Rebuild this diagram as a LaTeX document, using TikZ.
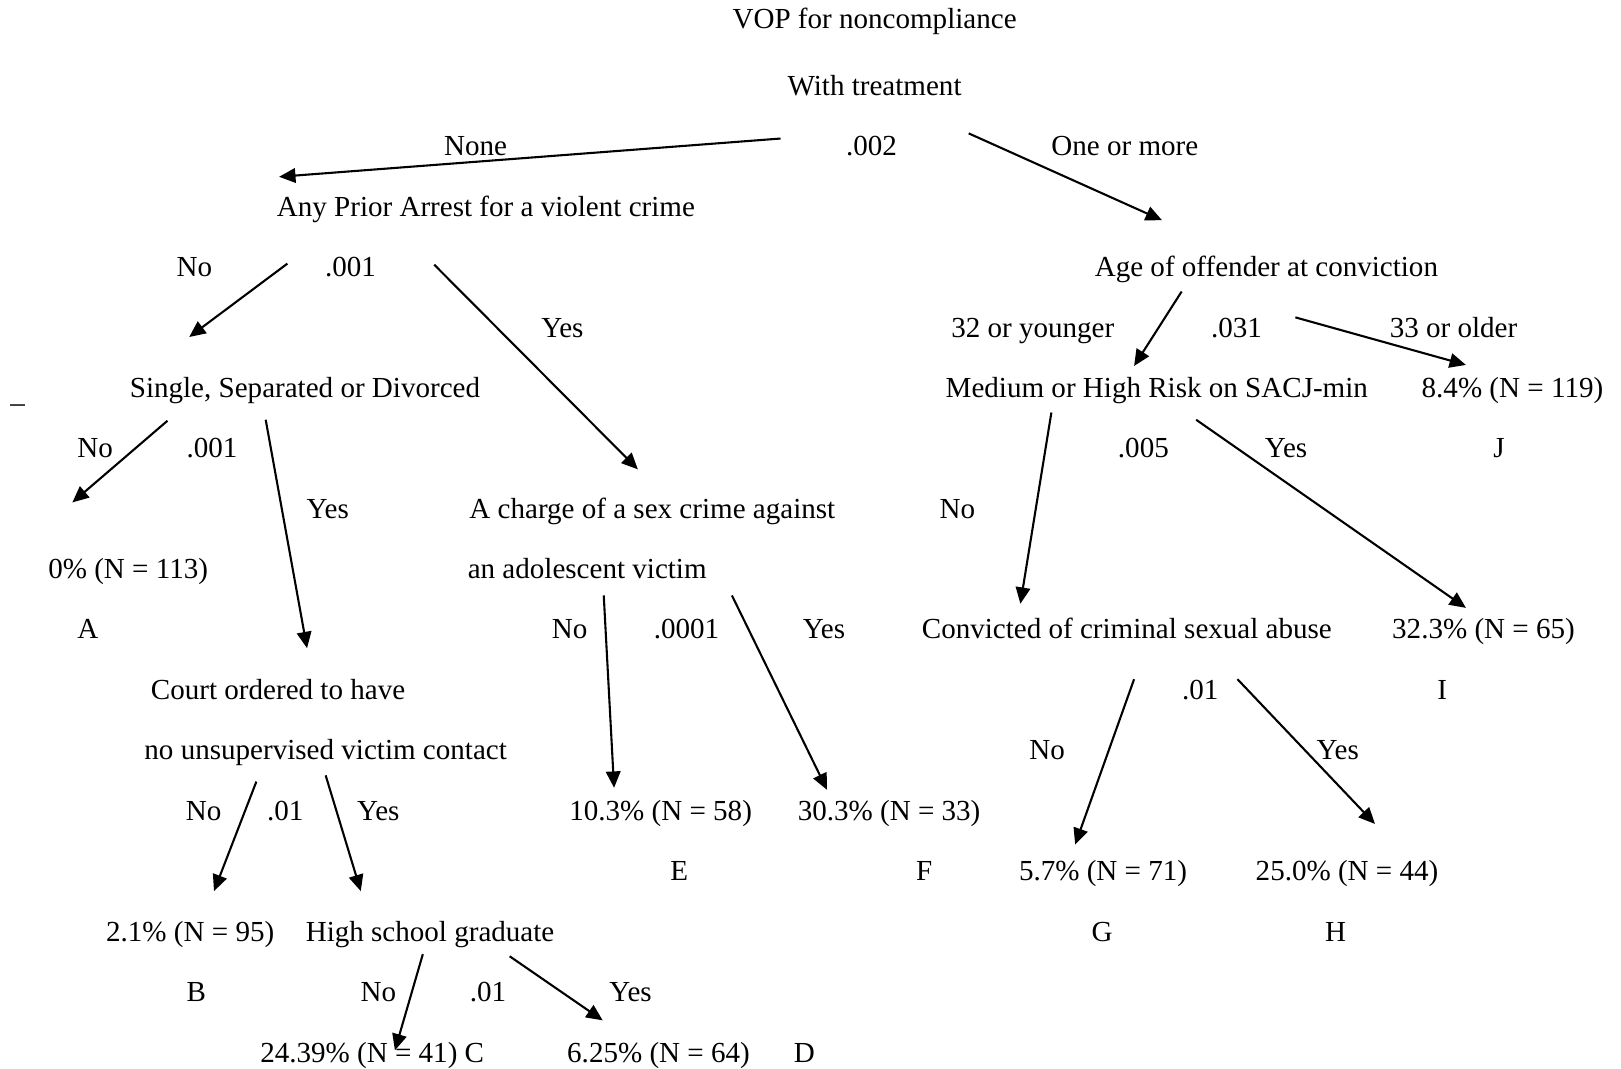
\documentclass[tikz,border=0pt]{standalone}
\usepackage{fontspec}
\setmainfont{Liberation Serif}
\usetikzlibrary{arrows.meta}

\tikzset{
  lbl/.style={anchor=base, inner sep=0pt, yshift=-0.8pt, font=\fontsize{16}{19}\selectfont},
  branch/.style={-{Triangle[length=9pt,width=8pt]}, line width=1.15pt},
}

\begin{document}
\begin{tikzpicture}[x=0.02cm,y=-0.02cm]
  \useasboundingbox (0,0) rectangle (1568,1034);
  % split labels and node texts, by row
  \node[lbl] (vop)      at (846,26)   {VOP for noncompliance};
  \node[lbl] (treat)    at (846,91)   {With treatment};
  \node[lbl] (none)     at (460,149)  {None};
  \node[lbl] (p002)     at (843,149)  {.002};
  \node[lbl] (oneplus)  at (1088,149) {One or more};
  \node[lbl] (prior)    at (470,208)  {Any Prior Arrest for a violent crime};
  \node[lbl] (priorno)  at (188,266)  {No};
  \node[lbl] (p001a)    at (339,266)  {.001};
  \node[lbl] (age)      at (1225,266) {Age of offender at conviction};
  \node[lbl] (prioryes) at (544,325)  {Yes};
  \node[lbl] (young)    at (999,325)  {32 or younger};
  \node[lbl] (p031)     at (1196,325) {.031};
  \node[lbl] (old)      at (1406,325) {33 or older};
  \node[lbl] (dash)     at (17,388)   {\_};
  \node[lbl] (single)   at (295,383)  {Single, Separated or Divorced};
  \node[lbl] (risk)     at (1119,383) {Medium or High Risk on SACJ-min};
  \node[lbl] (leafj)    at (1463,383) {8.4\% (N = 119)};
  \node[lbl] (singleno) at (92,441)   {No};
  \node[lbl] (p001b)    at (205,441)  {.001};
  \node[lbl] (p005)     at (1106,441) {.005};
  \node[lbl] (riskyes)  at (1244,441) {Yes};
  \node[lbl] (tagj)     at (1450,441) {J};
  \node[lbl] (singleyes) at (317,500) {Yes};
  \node[lbl] (sex)      at (631,500)  {A charge of a sex crime against};
  \node[lbl] (riskno)   at (926,500)  {No};
  \node[lbl] (leafa)    at (124,558)  {0\% (N = 113)};
  \node[lbl] (sex2)     at (568,558)  {an adolescent victim};
  \node[lbl] (taga)     at (85,616)   {A};
  \node[lbl] (sexno)    at (551,616)  {No};
  \node[lbl] (p0001)    at (664,616)  {.0001};
  \node[lbl] (sexyes)   at (797,616)  {Yes};
  \node[lbl] (abuse)    at (1090,616) {Convicted of criminal sexual abuse};
  \node[lbl] (leafi)    at (1435,616) {32.3\% (N = 65)};
  \node[lbl] (court)    at (269,675)  {Court ordered to have};
  \node[lbl] (p01a)     at (1161,675) {.01};
  \node[lbl] (tagi)     at (1395,675) {I};
  \node[lbl] (court2)   at (315,733)  {no unsupervised victim contact};
  \node[lbl] (abuseno)  at (1013,733) {No};
  \node[lbl] (abuseyes) at (1294,733) {Yes};
  \node[lbl] (courtno)  at (197,792)  {No};
  \node[lbl] (p01b)     at (276,792)  {.01};
  \node[lbl] (courtyes) at (366,792)  {Yes};
  \node[lbl] (leafe)    at (639,792)  {10.3\% (N = 58)};
  \node[lbl] (leaff)    at (860,792)  {30.3\% (N = 33)};
  \node[lbl] (tage)     at (657,850)  {E};
  \node[lbl] (tagf)     at (894,850)  {F};
  \node[lbl] (leafg)    at (1067,850) {5.7\% (N = 71)};
  \node[lbl] (leafh)    at (1303,850) {25.0\% (N = 44)};
  \node[lbl] (leafb)    at (184,909)  {2.1\% (N = 95)};
  \node[lbl] (school)   at (416,909)  {High school graduate};
  \node[lbl] (tagg)     at (1066,909) {G};
  \node[lbl] (tagh)     at (1292,909) {H};
  \node[lbl] (tagb)     at (190,967)  {B};
  \node[lbl] (schoolno) at (366,967)  {No};
  \node[lbl] (p01c)     at (472,967)  {.01};
  \node[lbl] (schoolyes) at (610,967) {Yes};
  \node[lbl] (leafc)    at (360,1026) {24.39\% (N = 41) C};
  \node[lbl] (leafd)    at (637,1026) {6.25\% (N = 64)};
  \node[lbl] (tagd)     at (778,1026) {D};

  % free ends of the branches
  \coordinate (treat-l) at (755,134);  \coordinate (prior-in) at (270,171);
  \coordinate (treat-r) at (937,129);  \coordinate (age-in) at (1124,213);
  \coordinate (prior-l) at (278,255);  \coordinate (single-in) at (183,326);
  \coordinate (prior-r) at (420,256);  \coordinate (sex-in) at (617,454);
  \coordinate (age-l) at (1143,282);   \coordinate (risk-in) at (1097,354);
  \coordinate (age-r) at (1253,307);   \coordinate (j-in) at (1418,353);
  \coordinate (single-l) at (162,407); \coordinate (a-in) at (70,486);
  \coordinate (single-r) at (257,406); \coordinate (court-in) at (297,627);
  \coordinate (risk-l) at (1017,399);  \coordinate (abuse-in) at (987,584);
  \coordinate (risk-r) at (1157,406);  \coordinate (i-in) at (1418,588);
  \coordinate (sex-l) at (584,576);    \coordinate (e-in) at (594,762);
  \coordinate (sex-r) at (708,576);    \coordinate (f-in) at (800,764);
  \coordinate (abuse-l) at (1097,657); \coordinate (g-in) at (1040,817);
  \coordinate (abuse-r) at (1197,657); \coordinate (h-in) at (1330,797);
  \coordinate (court-l) at (248,756);  \coordinate (b-in) at (207,862);
  \coordinate (court-r) at (315,750);  \coordinate (school-in) at (349,862);
  \coordinate (school-l) at (409,923); \coordinate (c-in) at (382,1016);
  \coordinate (school-r) at (493,925); \coordinate (d-in) at (583,987);

  \begin{scope}[branch]
    \draw (treat-l) -- (prior-in);
    \draw (treat-r) -- (age-in);
    \draw (prior-l) -- (single-in);
    \draw (prior-r) -- (sex-in);
    \draw (age-l) -- (risk-in);
    \draw (age-r) -- (j-in);
    \draw (single-l) -- (a-in);
    \draw (single-r) -- (court-in);
    \draw (risk-l) -- (abuse-in);
    \draw (risk-r) -- (i-in);
    \draw (sex-l) -- (e-in);
    \draw (sex-r) -- (f-in);
    \draw (abuse-l) -- (g-in);
    \draw (abuse-r) -- (h-in);
    \draw (court-l) -- (b-in);
    \draw (court-r) -- (school-in);
    \draw (school-l) -- (c-in);
    \draw (school-r) -- (d-in);
  \end{scope}
\end{tikzpicture}
\end{document}
